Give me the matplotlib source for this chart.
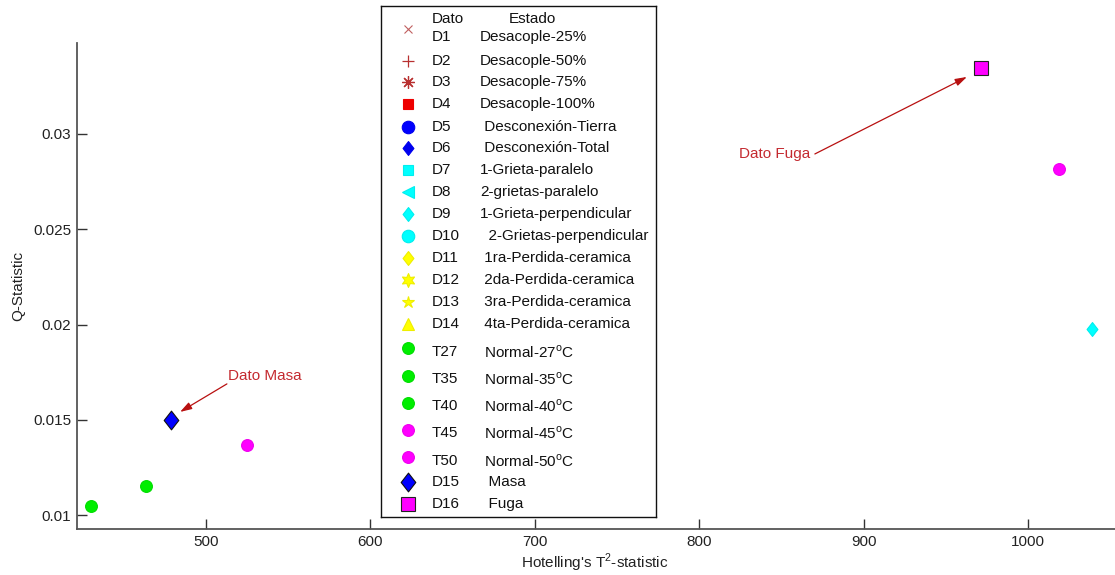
import numpy as np
import matplotlib
matplotlib.use('Agg')
import matplotlib.pyplot as plt
from matplotlib.path import Path

plt.rcParams['font.family'] = ['Liberation Sans', 'DejaVu Sans']
plt.rcParams['mathtext.fontset'] = 'custom'
plt.rcParams['mathtext.rm'] = 'Liberation Sans'

# data (nan = point not visible)
codes = ['D1', 'D2', 'D3', 'D4', 'D5', 'D6', 'D7', 'D8', 'D9', 'D10',
         'D11', 'D12', 'D13', 'D14', 'T27', 'T35', 'T40', 'T45', 'T50',
         'D15', 'D16']
states = ['Desacople-25%', 'Desacople-50%', 'Desacople-75%', 'Desacople-100%',
          ' Desconexión-Tierra', ' Desconexión-Total', '1-Grieta-paralelo',
          '2-grietas-paralelo', '1-Grieta-perpendicular',
          '  2-Grietas-perpendicular', ' 1ra-Perdida-ceramica',
          ' 2da-Perdida-ceramica', ' 3ra-Perdida-ceramica',
          ' 4ta-Perdida-ceramica',
          ' Normal-27$^{\\mathregular{o}}$C', ' Normal-35$^{\\mathregular{o}}$C',
          ' Normal-40$^{\\mathregular{o}}$C', ' Normal-45$^{\\mathregular{o}}$C',
          ' Normal-50$^{\\mathregular{o}}$C', '  Masa', '  Fuga']
t2_vals = [np.nan, np.nan, np.nan, np.nan, np.nan, np.nan, np.nan, np.nan,
           1039.0, np.nan, np.nan, np.nan, np.nan, np.nan,
           430.0, 463.5, np.nan, 525.0, 1019.0, 478.7, 971.4]
q_vals = [np.nan, np.nan, np.nan, np.nan, np.nan, np.nan, np.nan, np.nan,
          0.01979, np.nan, np.nan, np.nan, np.nan, np.nan,
          0.01049, 0.01154, np.nan, 0.01369, 0.02816, 0.01500, 0.03346]

# marker styles
diamond = Path([(0, 1), (0.78, 0), (0, -1), (-0.78, 0), (0, 1)],
               [Path.MOVETO, Path.LINETO, Path.LINETO, Path.LINETO, Path.CLOSEPOLY])
star6 = Path.unit_regular_star(6, 0.5)
dred = '#b83030'
styles = [
    dict(marker='x', color='#c06060', ms=6, mew=0.8),
    dict(marker='+', color=dred, ms=9, mew=0.9),
    dict(marker=(8, 2, 0), color=dred, ms=9, mew=0.9),
    dict(marker='s', color='#ee0000', ms=7, mec='#ee0000'),
    dict(marker='o', color='#0000ff', ms=9, mec='#0000ee'),
    dict(marker=diamond, color='#0000ee', ms=10, mec='#0000ee'),
    dict(marker='s', color='#00ffff', ms=7, mec='#00eeee'),
    dict(marker='<', color='#00ffff', ms=9, mec='#00eeee'),
    dict(marker=diamond, color='#00ffff', ms=10, mec='#00eeee'),
    dict(marker='o', color='#00ffff', ms=9, mec='#00eeee'),
    dict(marker=diamond, color='#ffff00', ms=10, mec='#eeee00'),
    dict(marker=star6, color='#ffff00', ms=10, mec='#eeee00'),
    dict(marker='*', color='#ffff00', ms=9, mec='#eeee00'),
    dict(marker='^', color='#ffff00', ms=9, mec='#eeee00'),
    dict(marker='o', color='#00ee00', ms=8.5, mec='#00dd00'),
    dict(marker='o', color='#00ee00', ms=8.5, mec='#00dd00'),
    dict(marker='o', color='#00ee00', ms=8.5, mec='#00dd00'),
    dict(marker='o', color='#ff00ff', ms=8.5, mec='#ee00ee'),
    dict(marker='o', color='#ff00ff', ms=8.5, mec='#ee00ee'),
    dict(marker=diamond, color='#0000ff', ms=13.5, mec='#111111'),
    dict(marker='s', color='#ff00ff', ms=10, mec='#222222'),
]

fig = plt.figure(figsize=(11.15, 5.75), dpi=100)
W, H = 1115, 575
ax = fig.add_axes([77 / W, 1 - 529 / H, (W - 77) / W, (529 - 43) / H])

for x, y, st in zip(t2_vals, q_vals, styles):
    if np.isnan(x):
        continue
    ax.plot([x], [y], linestyle='none', marker=st['marker'], color=st['color'],
            markersize=st['ms'], markeredgecolor=st.get('mec', st['color']),
            markeredgewidth=st.get('mew', 0.8), zorder=3)

ax.set_xlim(421.5, 1053)
ax.set_ylim(0.00928, 0.03477)
ax.set_xticks([500, 600, 700, 800, 900, 1000])
ax.set_yticks([0.01, 0.015, 0.02, 0.025, 0.03])
ax.set_yticklabels(['0.01', '0.015', '0.02', '0.025', '0.03'])
ax.tick_params(direction='in', length=7.5, width=1, color='#333333',
               labelsize=11, labelcolor='#222222', pad=4)
for side in ['top', 'right']:
    ax.spines[side].set_visible(False)
for side in ['left', 'bottom']:
    ax.spines[side].set_color('#555555')
    ax.spines[side].set_linewidth(1.3)

fig.text(595 / W, 1 - 563 / H, "Hotelling's T$^{\\mathregular{2}}$-statistic",
         ha='center', va='center', fontsize=11, color='#222222')
fig.text(18 / W, 1 - 286 / H, 'Q-Statistic', rotation=90,
         ha='center', va='center', fontsize=11, color='#222222')

# annotations
red_txt = '#c42a30'
arr = dict(arrowstyle='-|>,head_length=0.7,head_width=0.22', color='#b81010', lw=0.9,
           shrinkA=0, shrinkB=0)
ax.annotate('', xy=(484.2, 0.01542), xytext=(512.7, 0.01689), arrowprops=arr)
ax.text(513.4, 0.01731, 'Dato Masa', color=red_txt, fontsize=11, ha='left', va='center')
ax.annotate('', xy=(962.9, 0.03299), xytext=(870.4, 0.02895), arrowprops=arr)
ax.text(867.4, 0.02895, 'Dato Fuga', color=red_txt, fontsize=11, ha='right', va='center')

# legend box drawn by hand, coordinates in image pixels
lax = fig.add_axes([381 / W, 1 - 517 / H, (656 - 381) / W, (517 - 6) / H])
lax.set_xlim(381, 656)
lax.set_ylim(517, 6)
lax.set_xticks([])
lax.set_yticks([])
for sp in lax.spines.values():
    sp.set_color('#111111')
    sp.set_linewidth(1.0)
lax.set_zorder(5)

row_y = [37, 61, 82, 104, 127, 148, 170, 192, 214, 236, 258, 280, 302, 324,
         352, 379, 406, 433, 461, 482, 504]
mark_y = [29, 61, 82, 104, 127, 148, 170, 192, 214, 236, 258, 280, 302, 324,
          348, 376, 403, 430, 457, 482, 504]
lax.text(432, 19, 'Dato', fontsize=11, ha='left', va='center', color='#111111')
lax.text(509, 19, 'Estado', fontsize=11, ha='left', va='center', color='#111111')
for code, state, st, ty, my in zip(codes, states, styles, row_y, mark_y):
    lax.plot([408], [my], linestyle='none', marker=st['marker'], color=st['color'],
             markersize=st['ms'], markeredgecolor=st.get('mec', st['color']),
             markeredgewidth=st.get('mew', 0.8))
    lax.text(432, ty, code, fontsize=11, ha='left', va='center', color='#111111')
    lax.text(480, ty, state, fontsize=11, ha='left', va='center', color='#111111')

fig.savefig('out.png', dpi=100)
